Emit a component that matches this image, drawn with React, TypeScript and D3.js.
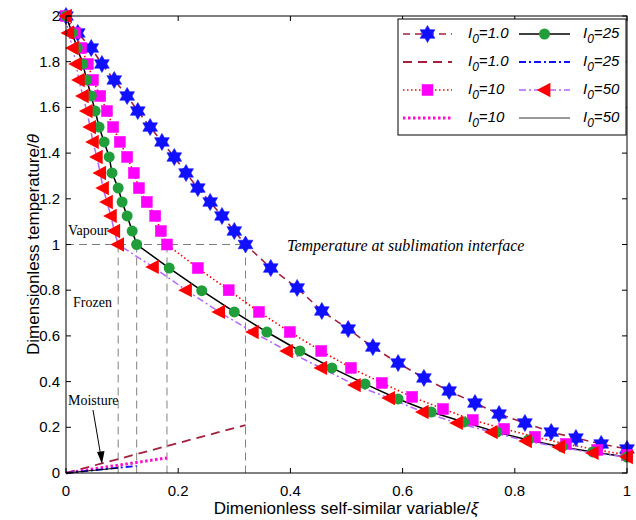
import React from "react";
import * as d3 from "d3";

// ---- data ----
const thetaUpper = [2.0, 1.926, 1.86, 1.79, 1.72, 1.65, 1.584, 1.514, 1.449, 1.383, 1.313, 1.247, 1.186, 1.125, 1.059, 1.0];

const xUpper1 = [0, 0.021, 0.045, 0.064, 0.086, 0.109, 0.128, 0.15, 0.171, 0.193, 0.214, 0.235, 0.257, 0.278, 0.3, 0.32];
const xLower1 = [0.32, 0.365, 0.412, 0.456, 0.503, 0.547, 0.592, 0.638, 0.683, 0.729, 0.772, 0.818, 0.865, 0.909, 0.954, 1.0];
const tLower1 = [1.0, 0.897, 0.81, 0.709, 0.63, 0.551, 0.481, 0.416, 0.359, 0.306, 0.258, 0.219, 0.179, 0.153, 0.127, 0.105];

const xUpper10 = [0, 0.016, 0.027, 0.039, 0.048, 0.061, 0.073, 0.084, 0.096, 0.109, 0.121, 0.13, 0.144, 0.159, 0.169, 0.18];
const xLower10 = [0.18, 0.235, 0.29, 0.344, 0.399, 0.455, 0.508, 0.563, 0.617, 0.672, 0.725, 0.781, 0.836, 0.891, 0.947, 1.0];
const tLower10 = [1.0, 0.897, 0.8, 0.705, 0.617, 0.534, 0.46, 0.394, 0.333, 0.28, 0.232, 0.193, 0.158, 0.127, 0.101, 0.079];

const xUpper25 = [0, 0.011, 0.02, 0.03, 0.037, 0.045, 0.052, 0.059, 0.068, 0.077, 0.082, 0.093, 0.1, 0.109, 0.118, 0.126];
const xLower25 = [0.126, 0.184, 0.242, 0.3, 0.358, 0.417, 0.474, 0.533, 0.592, 0.651, 0.709, 0.768, 0.824, 0.884, 0.939, 1.0];
const tLower25 = [1.0, 0.897, 0.798, 0.705, 0.617, 0.534, 0.46, 0.39, 0.324, 0.267, 0.223, 0.179, 0.144, 0.114, 0.092, 0.07];

const xUpper50 = [0, 0.004, 0.012, 0.018, 0.023, 0.03, 0.037, 0.043, 0.048, 0.055, 0.061, 0.066, 0.073, 0.08, 0.086, 0.093];
const xLower50 = [0.093, 0.155, 0.214, 0.273, 0.333, 0.394, 0.455, 0.515, 0.576, 0.636, 0.697, 0.759, 0.82, 0.879, 0.939, 1.0];
const tLower50 = [1.0, 0.902, 0.8, 0.705, 0.617, 0.534, 0.46, 0.385, 0.328, 0.267, 0.219, 0.179, 0.14, 0.114, 0.088, 0.07];

// moisture lines: end point (interface position, moisture value)
const moistureLabels = ["1.0", "10", "25", "50"];
const moistureEndX = [0.32, 0.18, 0.126, 0.093];
const moistureEndY = [0.21, 0.066, 0.031, 0.022];

const xTicks = [0, 0.2, 0.4, 0.6, 0.8, 1];
const xTickLabels = ["0", "0.2", "0.4", "0.6", "0.8", "1"];
const yTicks = [0, 0.2, 0.4, 0.6, 0.8, 1, 1.2, 1.4, 1.6, 1.8, 2];
const yTickLabels = ["0", "0.2", "0.4", "0.6", "0.8", "1", "1.2", "1.4", "1.6", "1.8", "2"];

// ---- layout ----
const W = 636, H = 520;
const L = 66, R = 627, T = 16, B = 473;
const x = d3.scaleLinear().domain([0, 1]).range([L, R]);
const y = d3.scaleLinear().domain([0, 2]).range([B, T]);

const DARKRED = "#a3203f";
const BLUE = "#1010ff";
const MAGENTA = "#ff00ff";
const RED = "#ff0000";
const GREEN = "#1f9e3a";
const PURPLE = "#b266ff";
const PINK = "#ff10c8";

const sans = "'Liberation Sans', Arial, sans-serif";
const serif = "'Liberation Serif', 'Times New Roman', serif";

function hexagram(cx: number, cy: number, r: number) {
  const pts: string[] = [];
  const ri = r / Math.sqrt(3);
  for (let k = 0; k < 12; k++) {
    const a = (-90 + k * 30) * Math.PI / 180;
    const rr = k % 2 === 0 ? r : ri;
    pts.push(`${cx + rr * Math.cos(a)},${cy + rr * Math.sin(a)}`);
  }
  return "M" + pts.join("L") + "Z";
}
function triLeft(cx: number, cy: number, s: number) {
  return `M${cx - s * 0.6},${cy}L${cx + s * 0.45},${cy - s * 0.55}L${cx + s * 0.45},${cy + s * 0.55}Z`;
}

type Marker = "star" | "square" | "circle" | "tri";
function drawMarker(m: Marker, cx: number, cy: number, key: string | number) {
  if (m === "star") return <path key={key} d={hexagram(cx, cy, 8.5)} fill={BLUE} stroke={BLUE} strokeWidth={0.6} />;
  if (m === "square") return <rect key={key} x={cx - 5.5} y={cy - 5.5} width={11} height={11} fill={MAGENTA} stroke={MAGENTA} strokeWidth={0.5} />;
  if (m === "circle") return <circle key={key} cx={cx} cy={cy} r={5.5} fill={GREEN} />;
  return <path key={key} d={triLeft(cx, cy, 13)} fill={RED} />;
}

const series = [
  { xs: [...xUpper1, ...xLower1.slice(1)], ts: [...thetaUpper, ...tLower1.slice(1)], color: DARKRED, dash: "7,5", width: 1.6, marker: "star" as Marker },
  { xs: [...xUpper10, ...xLower10.slice(1)], ts: [...thetaUpper, ...tLower10.slice(1)], color: RED, dash: "1.5,2.5", width: 1.6, marker: "square" as Marker },
  { xs: [...xUpper25, ...xLower25.slice(1)], ts: [...thetaUpper, ...tLower25.slice(1)], color: "#000", dash: "", width: 1.5, marker: "circle" as Marker },
  { xs: [...xUpper50, ...xLower50.slice(1)], ts: [...thetaUpper, ...tLower50.slice(1)], color: PURPLE, dash: "7,3,2,3", width: 1.5, marker: "tri" as Marker },
];

const moistureStyles = [
  { color: DARKRED, dash: "9,6", width: 1.8 },
  { color: PINK, dash: "2.5,2.5", width: 3 },
  { color: BLUE, dash: "7,3,2,3", width: 1.8 },
  { color: "#000", dash: "", width: 1 },
];

const line = d3.line<[number, number]>().x(d => x(d[0])).y(d => y(d[1]));

function LegendLabel({ tx, ty, val }: { tx: number; ty: number; val: string }) {
  return (
    <text x={tx} y={ty} fontFamily={sans} fontStyle="italic" fontSize={15} fill="#000">
      I<tspan dy={5} fontSize={12}>0</tspan><tspan dy={-5}>={val}</tspan>
    </text>
  );
}

export default function App() {
  const interfaceX = [xUpper1[15], xUpper10[15], xUpper25[15], xUpper50[15]];
  const lgX = 398, lgY = 19, lgW = 228, lgH = 116;
  const rows = [34, 62, 90, 118];
  const c1a = 403, c1b = 452, c2a = 519, c2b = 570;
  return (
    <svg width={W} height={H} style={{ position: "absolute", left: 0, top: 0, background: "#fff" }}>
      <rect x={0} y={0} width={W} height={H} fill="#fff" />
      <g stroke="#808080" strokeWidth={1} strokeDasharray="8,5" fill="none">
        <line x1={x(0)} x2={x(interfaceX[0])} y1={y(1)} y2={y(1)} />
        {interfaceX.map((v, i) => (
          <line key={i} x1={x(v)} x2={x(v)} y1={y(1)} y2={y(0)} />
        ))}
      </g>
      {moistureEndX.map((ex, i) => (
        <path key={"m" + i}
          d={line([[0, 0], [ex, moistureEndY[i]]]) || ""}
          fill="none" stroke={moistureStyles[i].color} strokeWidth={moistureStyles[i].width}
          strokeDasharray={moistureStyles[i].dash} />
      ))}
      {series.map((s, i) => (
        <path key={"l" + i} d={line(s.xs.map((v, j) => [v, s.ts[j]] as [number, number])) || ""}
          fill="none" stroke={s.color} strokeWidth={s.width} strokeDasharray={s.dash} />
      ))}
      {series.map((s, i) => (
        <g key={"mk" + i}>
          {s.xs.map((v, j) => drawMarker(s.marker, x(v), y(s.ts[j]), j))}
        </g>
      ))}

      <rect x={L} y={T} width={R - L} height={B - T} fill="none" stroke="#000" strokeWidth={1} />
      <g stroke="#000" strokeWidth={1}>
        {xTicks.map((t, i) => (
          <g key={"xt" + i}>
            <line x1={x(t)} x2={x(t)} y1={B} y2={B - 5} />
            <line x1={x(t)} x2={x(t)} y1={T} y2={T + 5} />
          </g>
        ))}
        {yTicks.map((t, i) => (
          <g key={"yt" + i}>
            <line x1={L} x2={L + 5} y1={y(t)} y2={y(t)} />
            <line x1={R} x2={R - 5} y1={y(t)} y2={y(t)} />
          </g>
        ))}
      </g>
      <g fontFamily={sans} fontSize={15} fill="#000">
        {xTicks.map((t, i) => (
          <text key={"xl" + i} x={x(t)} y={496} textAnchor="middle">{xTickLabels[i]}</text>
        ))}
        {yTicks.map((t, i) => (
          <text key={"yl" + i} x={60} y={y(t) + 5} textAnchor="end">{yTickLabels[i]}</text>
        ))}
      </g>
      <text x={346} y={514} textAnchor="middle" fontFamily={sans} fontSize={17}>
        Dimenionless self-similar variable/<tspan fontStyle="italic">ξ</tspan>
      </text>
      <text transform={`translate(39,${(T + B) / 2}) rotate(-90)`} textAnchor="middle" fontFamily={sans} fontSize={17}>
        Dimensionless temperature/<tspan fontStyle="italic">θ</tspan>
      </text>

      <g fontFamily={serif} fontSize={14} fill="#000">
        <text x={68} y={235}>Vapour</text>
        <text x={73} y={307}>Frozen</text>
        <text x={68} y={405}>Moisture</text>
      </g>
      <text x={287} y={251} fontFamily={serif} fontStyle="italic" fontSize={16}>Temperature at sublimation interface</text>
      <line x1={93} y1={410} x2={100.5} y2={454} stroke="#000" strokeWidth={1} />
      <path d="M102,464 L97,452 L104.5,451 Z" fill="#000" />

      <rect x={lgX} y={lgY} width={lgW} height={lgH} fill="#fff" stroke="#000" strokeWidth={1} />
      <line x1={c1a} x2={c1b} y1={rows[0]} y2={rows[0]} stroke={DARKRED} strokeWidth={1.6} strokeDasharray="7,5" />
      {drawMarker("star", (c1a + c1b) / 2, rows[0], "lg0")}
      <LegendLabel tx={468} ty={rows[0] + 4} val="1.0" />
      <line x1={c1a} x2={c1b} y1={rows[1]} y2={rows[1]} stroke={DARKRED} strokeWidth={1.8} strokeDasharray="9,6" />
      <LegendLabel tx={468} ty={rows[1] + 4} val="1.0" />
      <line x1={c1a} x2={c1b} y1={rows[2]} y2={rows[2]} stroke={RED} strokeWidth={1.6} strokeDasharray="1.5,2.5" />
      {drawMarker("square", (c1a + c1b) / 2, rows[2], "lg2")}
      <LegendLabel tx={468} ty={rows[2] + 4} val="10" />
      <line x1={c1a} x2={c1b} y1={rows[3]} y2={rows[3]} stroke={PINK} strokeWidth={3} strokeDasharray="2.5,2.5" />
      <LegendLabel tx={468} ty={rows[3] + 4} val="10" />
      <line x1={c2a} x2={c2b} y1={rows[0]} y2={rows[0]} stroke="#000" strokeWidth={1.5} />
      {drawMarker("circle", (c2a + c2b) / 2, rows[0], "lg4")}
      <LegendLabel tx={583} ty={rows[0] + 4} val="25" />
      <line x1={c2a} x2={c2b} y1={rows[1]} y2={rows[1]} stroke={BLUE} strokeWidth={1.8} strokeDasharray="7,3,2,3" />
      <LegendLabel tx={583} ty={rows[1] + 4} val="25" />
      <line x1={c2a} x2={c2b} y1={rows[2]} y2={rows[2]} stroke={PURPLE} strokeWidth={1.5} strokeDasharray="7,3,2,3" />
      {drawMarker("tri", (c2a + c2b) / 2, rows[2], "lg6")}
      <LegendLabel tx={583} ty={rows[2] + 4} val="50" />
      <line x1={c2a} x2={c2b} y1={rows[3]} y2={rows[3]} stroke="#333" strokeWidth={1} />
      <LegendLabel tx={583} ty={rows[3] + 4} val="50" />
    </svg>
  );
}
